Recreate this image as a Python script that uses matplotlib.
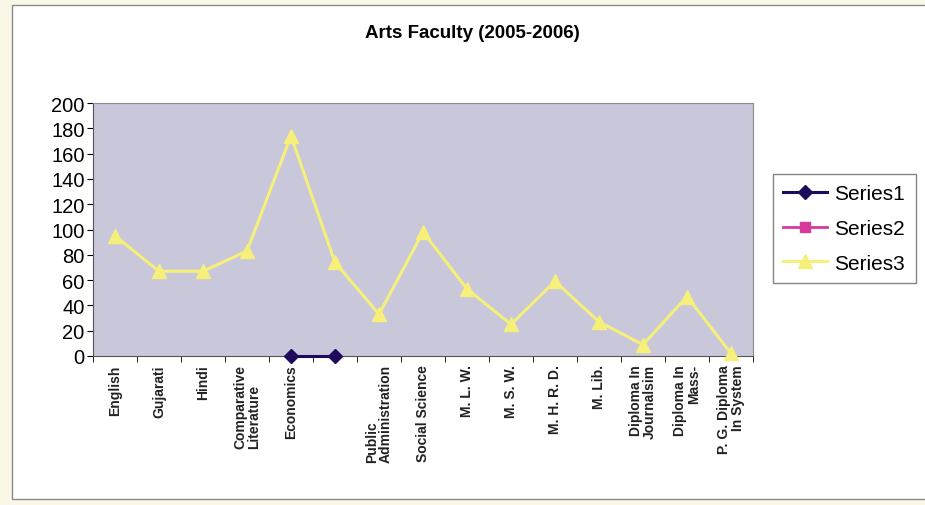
import numpy as np
from matplotlib import pyplot as plt
from matplotlib.patches import Rectangle

plt.rcParams['font.family'] = ['Liberation Sans', 'DejaVu Sans']

# categories as printed under the axis (one is blank in the original)
courses = ['English', 'Gujarati', 'Hindi', 'Comparative\nLiterature', 'Economics', '',
           'Public\nAdministration', 'Social Science', 'M. L. W.', 'M. S. W.', 'M. H. R. D.',
           'M. Lib.', 'Diploma In\nJournalsim', 'Diploma In\nMass-', 'P. G. Diploma\nIn System']

series1 = [np.nan, np.nan, np.nan, np.nan, 0, 0, np.nan, np.nan, np.nan, np.nan,
           np.nan, np.nan, np.nan, np.nan, np.nan]
series2 = [np.nan] * 15
series3 = [95, 67, 67, 83, 174, 74, 33, 98, 53, 25, 59, 27, 9, 47, 2]

yticks = list(range(0, 201, 20))

fig = plt.figure(figsize=(9.25, 5.06), dpi=100)
fig.patch.set_facecolor('#fbf7e6')
# white chart area with a thin grey border
fig.add_artist(Rectangle((12 / 925, 6 / 506), 915 / 925, 494 / 506, transform=fig.transFigure,
                         facecolor='white', edgecolor='#8a8a8a', lw=1.0, zorder=-1))

ax = fig.add_axes([93 / 925, 1 - 357 / 506, 660 / 925, 253 / 506])
ax.set_facecolor('#c9c7da')

x = np.arange(len(courses))
ax.plot(x, series3, color='#f6f07a', marker='^', markersize=10, lw=2.2, label='Series3',
        clip_on=False, zorder=3)
ax.plot(x, series2, color='#d63a9a', marker='s', markersize=7, lw=2, label='Series2',
        clip_on=False, zorder=4)
ax.plot(x, series1, color='#1f0a5c', marker='D', markersize=7, lw=2.2, label='Series1',
        clip_on=False, zorder=5)

ax.set_xlim(-0.5, len(courses) - 0.5)
ax.set_ylim(0, 200)
ax.set_yticks(yticks)
ax.tick_params(axis='y', labelsize=14.5, length=4, direction='out', pad=2)
ax.set_xticks(np.arange(len(courses) + 1) - 0.5, minor=True)
ax.set_xticks(x)
ax.set_xticklabels(courses, rotation=90, fontsize=10, fontweight='bold', linespacing=1.0,
                   color='#222222')
ax.tick_params(axis='x', which='major', length=0, pad=6)
ax.tick_params(axis='x', which='minor', length=4, direction='out')
for lab in ax.get_xticklabels():
    if lab.get_text().startswith(('Comparative', 'Public')):
        lab.set_multialignment('left')
    else:
        lab.set_multialignment('right')

for s in ['top', 'right']:
    ax.spines[s].set_color('#8c8c8c')
for s in ['left', 'bottom']:
    ax.spines[s].set_color('#555555')

fig.text(472 / 925, 1 - 34 / 506, 'Arts Faculty (2005-2006)', ha='center', va='center',
         fontsize=13.5, fontweight='bold')

handles, labels = ax.get_legend_handles_labels()
order = [2, 1, 0]
leg = fig.legend([handles[i] for i in order], [labels[i] for i in order],
                 loc='upper left', bbox_to_anchor=(773 / 925, 1 - 175 / 506), fontsize=15,
                 frameon=True, fancybox=False, edgecolor='#666666', handlelength=2.1,
                 borderpad=0.5, labelspacing=0.75, handletextpad=0.35, borderaxespad=0)

fig.savefig('out.png', dpi=100, facecolor=fig.get_facecolor())
